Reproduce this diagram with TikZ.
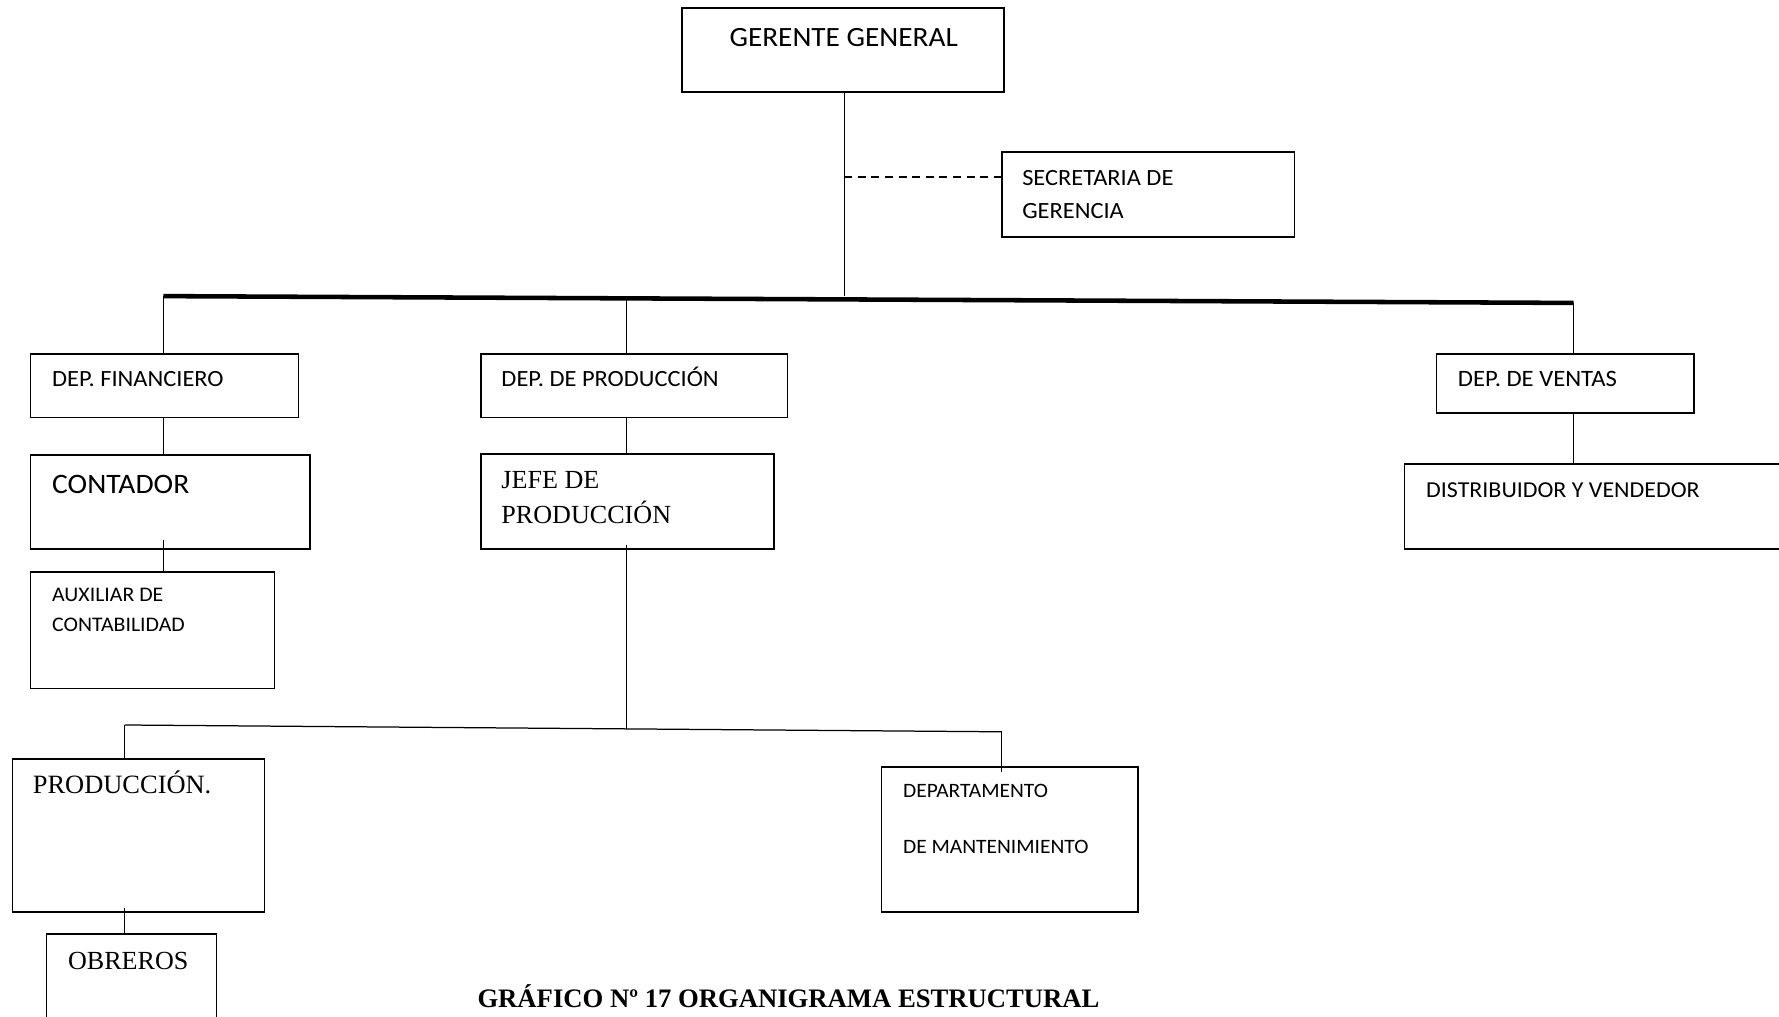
\documentclass[tikz,border=0pt]{standalone}
\usepackage{fontspec}
\setmainfont{Liberation Serif}
\newfontfamily\calibri[FakeStretch=1.05]{Carlito}
\usetikzlibrary{calc}
\begin{document}
\begin{tikzpicture}[x=1pt,y=-1pt,
  box/.style={draw, line width=1.4pt, anchor=north west, inner sep=0pt, outer sep=0pt},
  lbl/.style={anchor=base west, inner sep=0pt, outer sep=0pt},
  sans/.style={font=\calibri\fontsize{#1}{#1}\selectfont},
  serif/.style={font=\fontsize{#1}{#1}\selectfont},
  link/.style={line width=1.1pt},
  bus/.style={line width=4pt}]
\useasboundingbox (0,0) rectangle (1568,896);
\clip (0,0) rectangle (1568,896);

% boxes
\node[box, minimum width=284pt, minimum height=74pt]  (gg)   at (601,7)   {};
\node[box, minimum width=258pt, minimum height=75pt]  (sec)  at (883,134) {};
\node[box, minimum width=236pt, minimum height=56pt]  (fin)  at (27,312)  {};
\node[box, minimum width=270pt, minimum height=56pt]  (prod) at (424,312) {};
\node[box, minimum width=227pt, minimum height=52pt]  (ven)  at (1266,312) {};
\node[box, minimum width=246pt, minimum height=83pt]  (cont) at (27,401)  {};
\node[box, minimum width=258pt, minimum height=84pt]  (jefe) at (424,400) {};
\node[box, minimum width=215pt, minimum height=103pt] (aux)  at (27,504)  {};
\node[box, minimum width=345pt, minimum height=75pt]  (dist) at (1238,409) {};
\node[box, minimum width=222pt, minimum height=135pt] (pro2) at (11,669)  {};
\node[box, minimum width=226pt, minimum height=128pt] (mant) at (777,676) {};
\node[box, minimum width=150pt, minimum height=85pt]  (obr)  at (41,823)  {};

% labels
\node[lbl, sans=24.6] (tgg)   at (643,41)    {GERENTE GENERAL};
\node[lbl, sans=20.5] (tsec1) at (901,163.5) {SECRETARIA DE};
\node[lbl, sans=20.5] (tsec2) at (901,192.5) {GERENCIA};
\node[lbl, sans=20.5] (tfin)  at (46,340.5)  {DEP. FINANCIERO};
\node[lbl, sans=20.5] (tprod) at (442,340.5) {DEP. DE PRODUCCIÓN};
\node[lbl, sans=20.7] (tven)  at (1285,340.5) {DEP. DE VENTAS};
\node[lbl, sans=24.8] (tcont) at (46,435)    {CONTADOR};
\node[lbl, serif=23]  (tjef1) at (442,430.5) {JEFE DE};
\node[lbl, serif=23]  (tjef2) at (442,461)   {PRODUCCIÓN};
\node[lbl, sans=18.3] (taux1) at (46,530.5)  {AUXILIAR DE};
\node[lbl, sans=18.3] (taux2) at (46,557)    {CONTABILIDAD};
\node[lbl, sans=20.1] (tdist) at (1257,438.5) {DISTRIBUIDOR Y VENDEDOR};
\node[lbl, serif=23.3] (tpro2) at (29,699.5) {PRODUCCIÓN.};
\node[lbl, sans=18]   (tman1) at (796,703)   {DEPARTAMENTO};
\node[lbl, sans=18]   (tman2) at (796,752)   {DE MANTENIMIENTO};
\node[lbl, serif=23]  (tobr)  at (60,854.5)  {OBREROS};
\node[anchor=base, inner sep=0pt, font=\bfseries\fontsize{23.5}{23.5}\selectfont] (cap)
  at (695,888) {GRÁFICO Nº 17 ORGANIGRAMA ESTRUCTURAL};

% junction points
\coordinate (busL) at (144,261);
\coordinate (busR) at (1387,267);
\coordinate (busP) at (552,263);
\coordinate (gj)   at (744,261);
\coordinate (dashL) at (744,156);
\coordinate (lowL) at (110,639);
\coordinate (lowR) at (883,645);
\coordinate (lowJ) at (552,642.4);

% main bus
\draw[bus] (busL) -- (busR);
\draw[link] (gj |- gg.south) -- (gj);
\draw[link, dashed, dash pattern=on 7pt off 5pt] (dashL) -- (dashL -| sec.west);

% first level drops
\draw[link] (busL) -- (busL |- fin.north);
\draw[link] (busP) -- (busP |- prod.north);
\draw[link] (busR) -- (busR |- ven.north);

% financial branch
\draw[link] (busL |- fin.south) -- (busL |- cont.north);
\draw[link] ([yshift=8pt]busL |- cont.south) -- (busL |- aux.north);

% production branch
\draw[link] (busP |- prod.south) -- (busP |- jefe.north);
\draw[link] ([yshift=4pt]busP |- jefe.south) -- (lowJ);
\draw[link] (lowL) -- (lowR);
\draw[link] (lowL) -- (lowL |- pro2.north);
\draw[link] (lowR) -- ([yshift=-4pt]lowR |- mant.north);
\draw[link] ([yshift=4pt]lowL |- pro2.south) -- (lowL |- obr.north);

% sales branch
\draw[link] (busR |- ven.south) -- (busR |- dist.north);
\end{tikzpicture}
\end{document}
